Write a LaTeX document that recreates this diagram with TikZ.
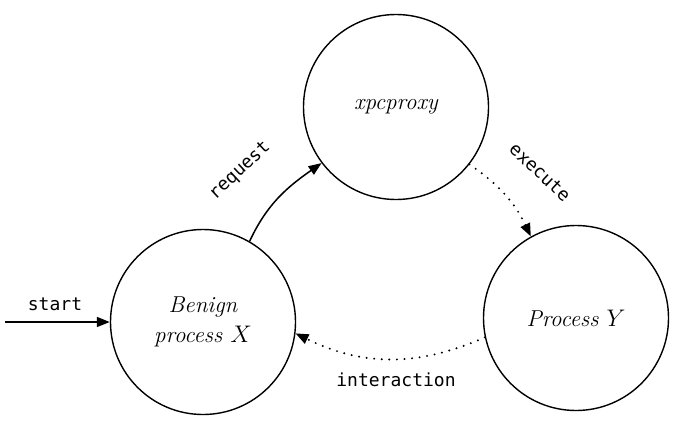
\documentclass[tikz,border=0pt]{standalone}
\usepackage{fontspec}
\setmonofont{DejaVu Sans Mono}
\usetikzlibrary{arrows.meta}
\begin{document}
\begin{tikzpicture}[x=0.5pt, y=-0.5pt, >={Triangle[length=6.5pt, width=5pt]}]

\tikzstyle{proc} = [draw, line width=0.7pt, circle, minimum size=92.5pt, inner sep=0pt, align=center, font=\fontsize{11.5}{15}\selectfont\itshape]
\tikzstyle{edgetext} = [font=\fontsize{9}{11}\selectfont\ttfamily]
\tikzstyle{dotline} = [line width=1.1pt, line cap=round, dash pattern=on 0pt off 3.8pt]

\useasboundingbox (0,0) rectangle (679,423);

% --- processes
\node[proc] (xpc) at (396,107) {xpcproxy};
\node[proc] (benign) at (203,322) {Benign\\process $X$};
\node[proc] (procy) at (576,318) {Process $Y$};

% --- start
\coordinate (start_in) at (5,322);
\draw[->, line width=0.75pt] (start_in) -- (benign.west);
\node[edgetext] at (55,304) {start};

% request
\draw[->, line width=0.75pt] (benign.60) to[out=65, in=215] (xpc.217);
\node[edgetext, rotate=43] at (240,171) {request};

% execute
\draw[->, dotline] (xpc.322) to[bend left=15] (procy.119);
\node[edgetext, rotate=-43] at (540,172) {execute};

% interaction
\draw[->, dotline] (procy.192) to[bend left=25] (benign.353);
\node[edgetext] at (396,380) {interaction};

\end{tikzpicture}
\end{document}
